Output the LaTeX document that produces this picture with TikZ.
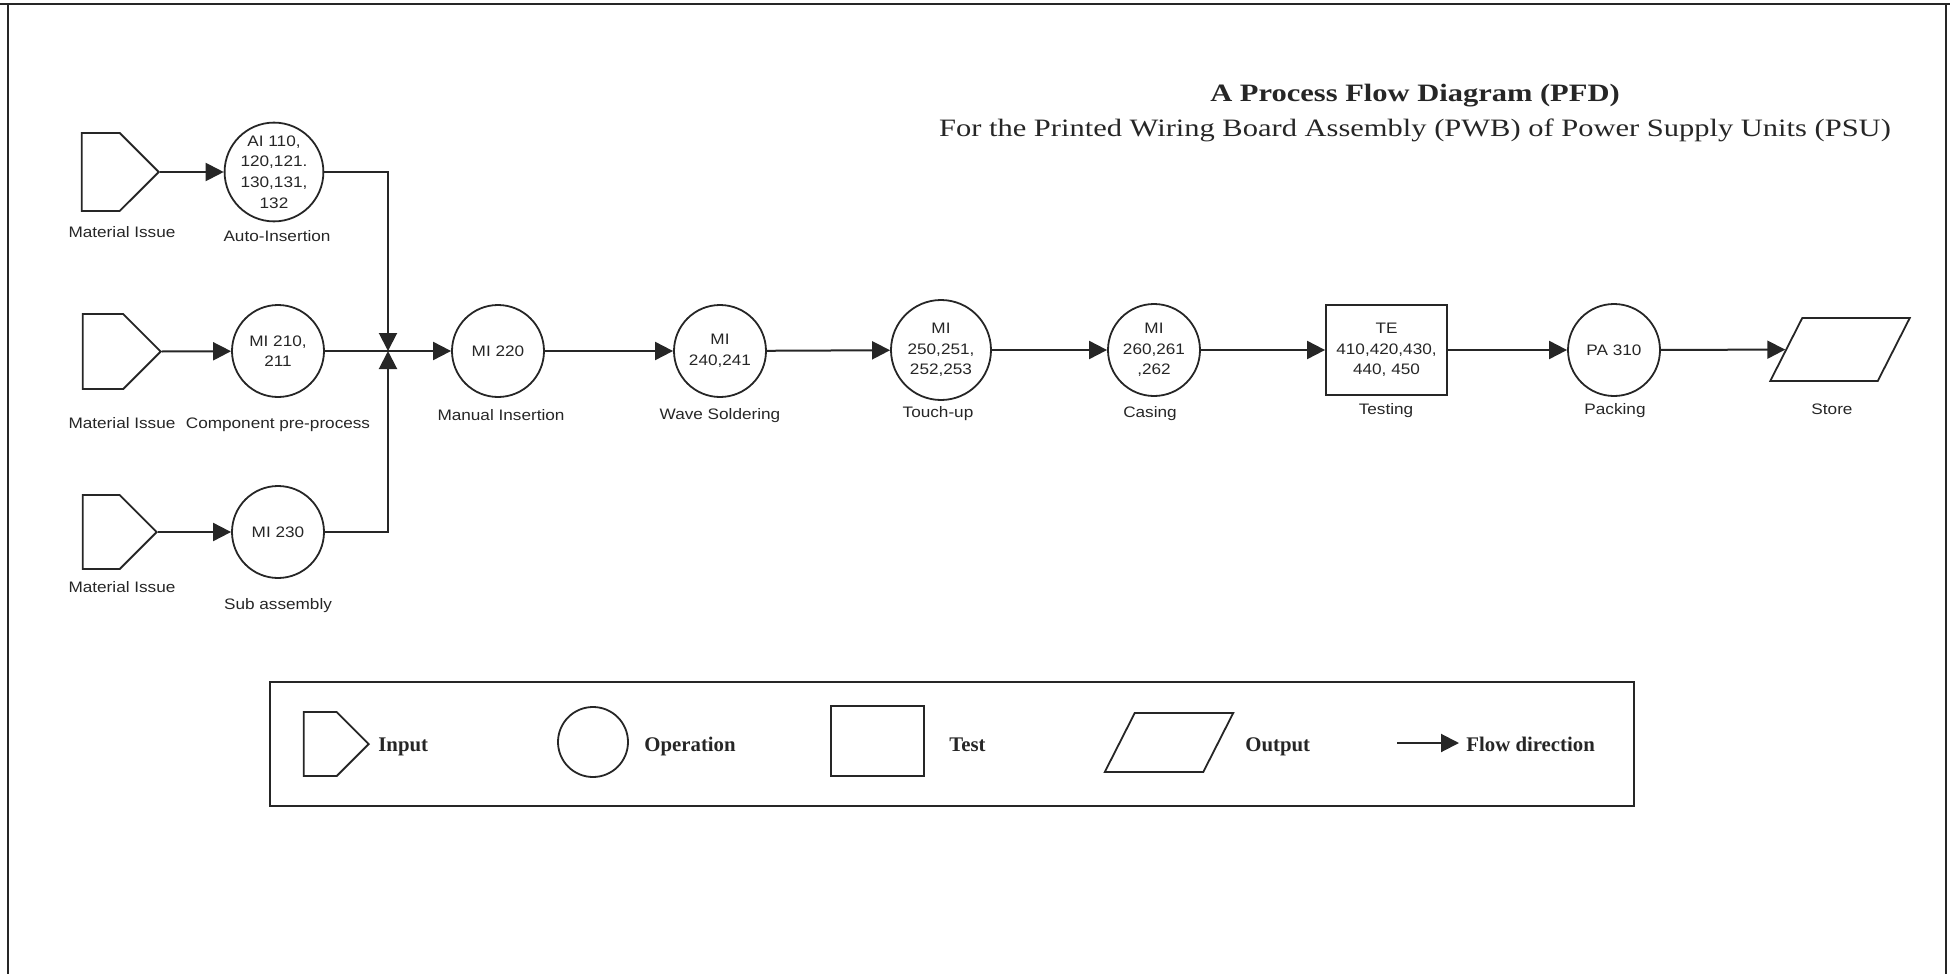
\documentclass[tikz,border=0pt]{standalone}
\usepackage{fontspec}
\setmainfont{Liberation Serif}
\newfontfamily\lblfont{Liberation Sans}[FakeStretch=1.13]
\newfontfamily\ttlfont{Liberation Serif}[FakeStretch=1.22]
\usetikzlibrary{shapes.symbols,arrows.meta}

\begin{document}
\begin{tikzpicture}[x=0.5pt,y=-0.5pt,
  ink/.style={draw=black!85, line width=1pt},
  flow/.style={ink, -{Triangle[length=9pt,width=9pt]}},
  op/.style={circle, ink, line width=0.9pt, inner sep=0pt, align=center,
    text=black!85, font=\lblfont\fontsize{7.6}{10.3}\selectfont},
  inbox/.style={signal, signal to=east, signal pointer angle=90, ink,
    line width=0.9pt, inner sep=0pt, anchor=east},
  testbox/.style={rectangle, ink, line width=0.9pt, inner sep=0pt, align=center,
    text=black!85, font=\lblfont\fontsize{7.6}{10.3}\selectfont},
  outbox/.style={rectangle, ink, line width=0.9pt, inner sep=0pt, transform shape},
  caption/.style={anchor=base, inner sep=0pt, text=black!85,
    font=\lblfont\fontsize{7.6}{9}\selectfont},
  legtext/.style={anchor=base west, inner sep=0pt, text=black!85,
    font=\fontsize{10.4}{12}\selectfont\bfseries}]
\useasboundingbox (0,0) rectangle (1950,974);

% page frame
\draw[ink] (0,4) -- (1950,4);
\draw[ink] (8,4) -- (8,974);
\draw[ink] (1946,4) -- (1946,974);

% title
\node[anchor=base, inner sep=0pt, text=black!85, font=\ttlfont\fontsize{12.5}{14}\selectfont\bfseries]
  (title) at (1415,102) {A Process Flow Diagram (PFD)};
\node[anchor=base, inner sep=0pt, text=black!85, font=\ttlfont\fontsize{12.5}{14}\selectfont]
  (subtitle) at (1415,137) {For the Printed Wiring Board Assembly (PWB) of Power Supply Units (PSU)};

% feeder lines (inputs are placed by their tips)
\node[inbox, minimum width=38.5pt, minimum height=39pt] (in1) at (160,172) {};
\node[op, minimum size=49pt] (ai) at (274,172) {AI 110,\\120,121.\\130,131,\\132};
\node[inbox, minimum width=39pt, minimum height=37.5pt] (in2) at (162,351.5) {};
\node[op, minimum size=46pt] (cp) at (278,351) {MI 210,\\211};
\node[inbox, minimum width=37pt, minimum height=37pt] (in3) at (158,532) {};
\node[op, minimum size=46pt] (sa) at (278,532) {MI 230};

\node[caption] (l-in1) at (122,237) {Material Issue};
\node[caption] (l-ai) at (277,242) {Auto-Insertion};
\node[caption] (l-in2) at (122,428) {Material Issue};
\node[caption] (l-cp) at (278,428) {Component pre-process};
\node[caption] (l-in3) at (122,592) {Material Issue};
\node[caption] (l-sa) at (278,609) {Sub assembly};

\coordinate (j) at (388,351);

% main line
\node[op, minimum size=46pt] (mi220) at (498,351) {MI 220};
\node[op, minimum size=46pt] (ws) at (720,351) {MI\\240,241};
\node[op, minimum size=50pt] (tu) at (941,350) {MI\\250,251,\\252,253};
\node[op, minimum size=46pt] (cs) at (1154,350) {MI\\260,261\\,262};
\node[testbox, minimum width=60.5pt, minimum height=45pt] (te) at (1386.5,350) {TE\\410,420,430,\\440, 450};
\node[op, minimum size=46pt] (pk) at (1614,350) {PA 310};
\begin{scope}[shift={(1840,349.5)}, xslant=0.508]
  \node[outbox, minimum width=53.75pt, minimum height=31.5pt] (st) at (0,0) {};
\end{scope}

\node[caption] (l-mi220) at (501,420) {Manual Insertion};
\node[caption] (l-ws) at (720,419) {Wave Soldering};
\node[caption] (l-tu) at (938,417) {Touch-up};
\node[caption] (l-cs) at (1150,417) {Casing};
\node[caption] (l-te) at (1386,414) {Testing};
\node[caption] (l-pk) at (1615,414) {Packing};
\node[caption] (l-st) at (1832,414) {Store};

% connectors
\draw[flow] (in1.east) -- (ai);
\draw[flow] (in2.east) -- (cp);
\draw[flow] (in3.east) -- (sa);
\draw[flow] (ai.east) -| (j);
\draw[flow] (sa.east) -| (j);
\draw[flow] (cp.east) -- (mi220);
\draw[flow] (mi220) -- (ws);
\draw[flow] (ws) -- (tu);
\draw[flow] (tu) -- (cs);
\draw[flow] (cs) -- (te);
\draw[flow] (te) -- (pk);
\draw[flow] (pk) -- (st);

% legend
\node[ink, rectangle, minimum width=682pt, minimum height=62pt, inner sep=0pt] (legend) at (952,744) {};
\node[inbox, minimum width=32.5pt, minimum height=32pt] (k-in) at (370,744) {};
\node[legtext] (k-in-t) at (378,751) {Input};
\node[op, minimum size=35pt] (k-op) at (593,742) {};
\node[legtext] (k-op-t) at (644,751) {Operation};
\node[testbox, minimum width=46.5pt, minimum height=35pt] (k-te) at (877.5,741) {};
\node[legtext] (k-te-t) at (949,751) {Test};
\begin{scope}[shift={(1169,742.5)}, xslant=0.508]
  \node[outbox, minimum width=49.25pt, minimum height=29.5pt] (k-out) at (0,0) {};
\end{scope}
\node[legtext] (k-out-t) at (1245,751) {Output};
\coordinate (k-a0) at (1397,743);
\coordinate (k-a1) at (1459,743);
\draw[flow] (k-a0) -- (k-a1);
\node[legtext] (k-fl-t) at (1466,751) {Flow direction};
\end{tikzpicture}
\end{document}
